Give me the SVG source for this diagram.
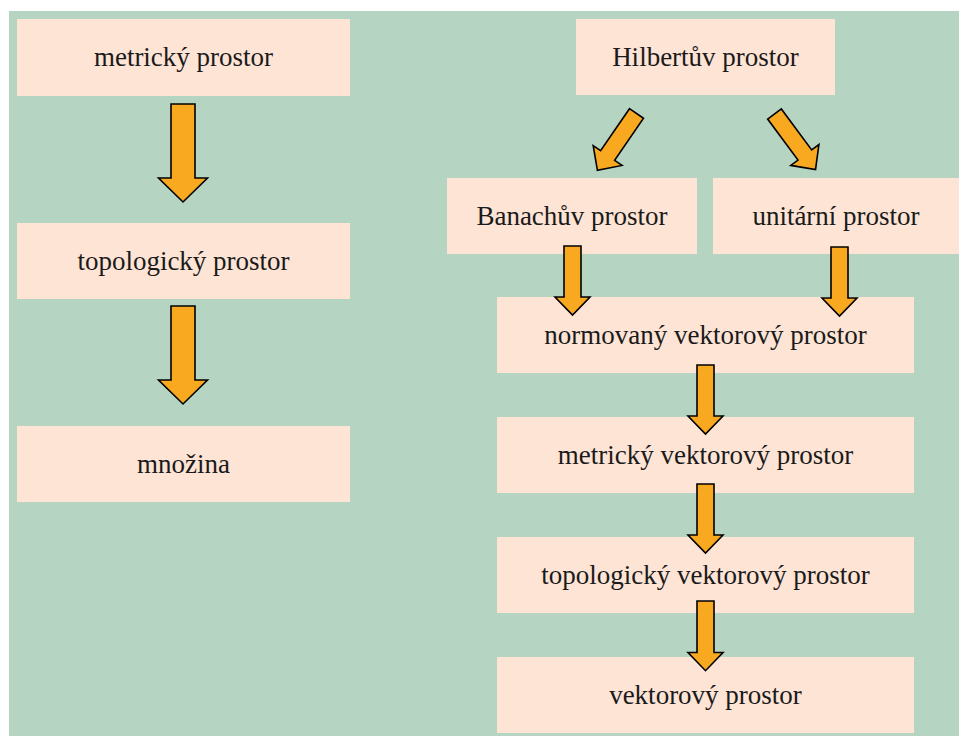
<svg xmlns="http://www.w3.org/2000/svg" xmlns:xlink="http://www.w3.org/1999/xlink" width="959" height="736" viewBox="0 0 959 736">
<style>
.box{fill:#FEE4D5}
.lbl{font-family:"Liberation Serif","DejaVu Serif",serif;font-size:27px;fill:#1a1a1a;text-anchor:middle}
.arr{fill:#F9A920;stroke:#000;stroke-width:1.6;stroke-linejoin:miter}
</style>
<defs>
<path id="sa" d="M -8.5,0 L 8.5,0 L 8.5,51 L 17.5,51 L 0,69 L -17.5,51 L -8.5,51 Z"/>
<path id="ba" d="M -12,0 L 12,0 L 12,74 L 24.5,74 L 0,98 L -24.5,74 L -12,74 Z"/>
</defs>
<rect x="0" y="0" width="959" height="736" fill="#ffffff"/>
<rect x="9" y="11" width="950" height="725" fill="#B6D4C2"/>
<g id="n-metricky"><rect class="box" x="17" y="19" width="333" height="77"/><text class="lbl" x="183.5" y="66">metrický prostor</text></g>
<g id="n-topologicky"><rect class="box" x="17" y="223" width="333" height="76"/><text class="lbl" x="183.5" y="269.5">topologický prostor</text></g>
<g id="n-mnozina"><rect class="box" x="17" y="426" width="333" height="76"/><text class="lbl" x="183.5" y="472.5">množina</text></g>
<g id="n-hilbert"><rect class="box" x="576" y="19" width="259" height="76"/><text class="lbl" x="705.5" y="65.5">Hilbertův prostor</text></g>
<g id="n-banach"><rect class="box" x="447" y="178" width="250" height="76"/><text class="lbl" x="572" y="224.5">Banachův prostor</text></g>
<g id="n-unitarni"><rect class="box" x="713" y="178" width="246" height="76"/><text class="lbl" x="836" y="224.5">unitární prostor</text></g>
<g id="n-normovany"><rect class="box" x="497" y="297" width="417" height="76"/><text class="lbl" x="705.5" y="343.5">normovaný vektorový prostor</text></g>
<g id="n-metricky-vp"><rect class="box" x="497" y="417" width="417" height="76"/><text class="lbl" x="705.5" y="463.5">metrický vektorový prostor</text></g>
<g id="n-topologicky-vp"><rect class="box" x="497" y="537" width="417" height="76"/><text class="lbl" x="705.5" y="583.5">topologický vektorový prostor</text></g>
<g id="n-vektorovy"><rect class="box" x="497" y="657" width="417" height="76"/><text class="lbl" x="705.5" y="703.5">vektorový prostor</text></g>
<g id="connectors">
<use class="arr" xlink:href="#ba" href="#ba" transform="translate(183,104)"/>
<use class="arr" xlink:href="#ba" href="#ba" transform="translate(183,306)"/>
<use class="arr" xlink:href="#sa" href="#sa" transform="translate(636.5,113.5) rotate(34.5)"/>
<use class="arr" xlink:href="#sa" href="#sa" transform="translate(774.5,114) rotate(-36.5)"/>
<use class="arr" xlink:href="#sa" href="#sa" transform="translate(572.5,246)"/>
<use class="arr" xlink:href="#sa" href="#sa" transform="translate(839.5,247)"/>
<use class="arr" xlink:href="#sa" href="#sa" transform="translate(705.5,365)"/>
<use class="arr" xlink:href="#sa" href="#sa" transform="translate(705.5,484)"/>
<use class="arr" xlink:href="#sa" href="#sa" transform="translate(705.5,601) scale(1,1.01)"/>
</g>
</svg>
